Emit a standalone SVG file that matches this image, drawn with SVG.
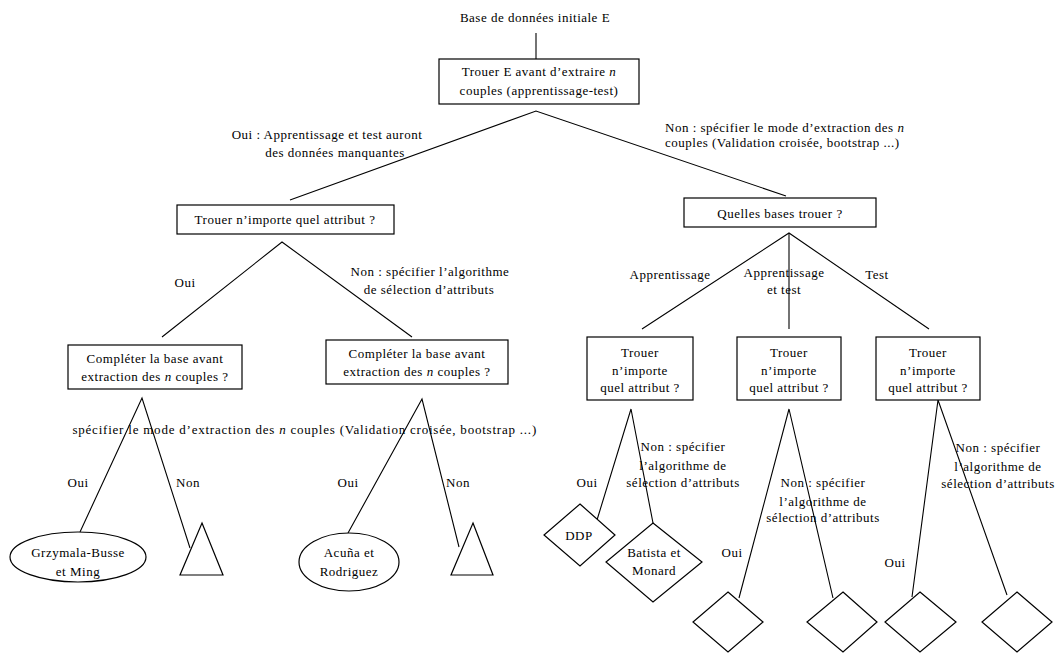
<svg xmlns="http://www.w3.org/2000/svg" width="1057" height="653" viewBox="0 0 1057 653">
  <style>
    text { font-family: "Liberation Serif", "Times New Roman", serif; font-size: 13px; letter-spacing: 0.5px; fill: #000; }
    .c { text-anchor: middle; }
    .e { text-anchor: end; }
    .wide { letter-spacing: 0.78px; }
    .box { fill: #fff; stroke: #000; stroke-width: 1.2; }
    .edge { fill: none; stroke: #000; stroke-width: 1.1; }
    .i { font-style: italic; }
  </style>
  <rect width="1057" height="653" fill="#fff"/>

  <!-- connectors -->
  <g id="connectors" class="edge">
    <line x1="536" y1="33" x2="536" y2="59"/>
    <polyline points="290,200 536,111 786,196"/>
    <polyline points="162,337 282,242 412,337"/>
    <polyline points="642,329 789,233 929,329"/>
    <line x1="789" y1="233" x2="789" y2="329"/>
    <polyline points="80,532 142,398 190,548"/>
    <polyline points="348,533 422,399 459,547"/>
    <polyline points="597,520 631,409 653,523"/>
    <polyline points="739,598 789,409 833,598"/>
    <polyline points="912,597 938,400 1007,595"/>
  </g>

  <!-- edge labels -->
  <g id="labels">
    <text x="327" y="139" class="c">Oui : Apprentissage et test auront</text>
    <text x="335" y="157" class="c">des données manquantes</text>
    <text x="665" y="132">Non : spécifier le mode d’extraction des <tspan class="i">n</tspan></text>
    <text x="665" y="147">couples (Validation croisée, bootstrap ...)</text>
    <text x="185" y="287" class="c">Oui</text>
    <text x="430" y="276" class="c">Non : spécifier l’algorithme</text>
    <text x="429" y="294" class="c">de sélection d’attributs</text>
    <text x="670" y="279" class="c">Apprentissage</text>
    <text x="784" y="277" class="c">Apprentissage</text>
    <text x="784" y="294" class="c">et test</text>
    <text x="877" y="279" class="c">Test</text>
    <text x="537" y="434" class="e wide">spécifier le mode d’extraction des <tspan class="i">n</tspan> couples (Validation croisée, bootstrap ...)</text>
    <text x="78" y="487" class="c">Oui</text>
    <text x="188" y="487" class="c">Non</text>
    <text x="348" y="487" class="c">Oui</text>
    <text x="458" y="487" class="c">Non</text>
    <text x="587" y="487" class="c">Oui</text>
    <text x="683" y="451" class="c">Non : spécifier</text>
    <text x="683" y="470" class="c">l’algorithme de</text>
    <text x="683" y="487" class="c">sélection d’attributs</text>
    <text x="732" y="557" class="c">Oui</text>
    <text x="823" y="487" class="c">Non : spécifier</text>
    <text x="823" y="506" class="c">l’algorithme de</text>
    <text x="823" y="522" class="c">sélection d’attributs</text>
    <text x="895" y="567" class="c">Oui</text>
    <text x="998" y="452" class="c">Non : spécifier</text>
    <text x="998" y="471" class="c">l’algorithme de</text>
    <text x="998" y="488" class="c">sélection d’attributs</text>
  </g>

  <!-- nodes -->
  <g id="root">
    <text x="535" y="22" class="c">Base de données initiale E</text>
  </g>
  <g id="trouer-e">
    <rect class="box" x="439" y="59" width="200" height="45"/>
    <text x="539" y="76" class="c">Trouer E avant d’extraire <tspan class="i">n</tspan></text>
    <text x="539" y="95" class="c">couples (apprentissage-test)</text>
  </g>
  <g id="trouer-attribut">
    <rect class="box" x="177" y="205" width="217" height="29"/>
    <text x="285" y="224" class="c">Trouer n’importe quel attribut ?</text>
  </g>
  <g id="quelles-bases">
    <rect class="box" x="684" y="198" width="192" height="29"/>
    <text x="780" y="218" class="c">Quelles bases trouer ?</text>
  </g>
  <g id="completer-1">
    <rect class="box" x="68" y="345" width="174" height="44"/>
    <text x="155" y="363" class="c">Compléter la base avant</text>
    <text x="155" y="381" class="c">extraction des <tspan class="i">n</tspan> couples ?</text>
  </g>
  <g id="completer-2">
    <rect class="box" x="326" y="340" width="182" height="44"/>
    <text x="417" y="358" class="c">Compléter la base avant</text>
    <text x="417" y="376" class="c">extraction des <tspan class="i">n</tspan> couples ?</text>
  </g>
  <g id="trouer-app">
    <rect class="box" x="587" y="337" width="106" height="63"/>
    <text x="640" y="357" class="c">Trouer</text>
    <text x="640" y="375" class="c">n’importe</text>
    <text x="640" y="392" class="c">quel attribut ?</text>
  </g>
  <g id="trouer-app-test">
    <rect class="box" x="737" y="337" width="104" height="63"/>
    <text x="789" y="357" class="c">Trouer</text>
    <text x="789" y="375" class="c">n’importe</text>
    <text x="789" y="392" class="c">quel attribut ?</text>
  </g>
  <g id="trouer-test">
    <rect class="box" x="876" y="337" width="104" height="63"/>
    <text x="928" y="357" class="c">Trouer</text>
    <text x="928" y="375" class="c">n’importe</text>
    <text x="928" y="392" class="c">quel attribut ?</text>
  </g>
  <g id="grzymala">
    <ellipse class="box" cx="78" cy="557" rx="68" ry="25"/>
    <text x="78" y="557" class="c">Grzymala-Busse</text>
    <text x="78" y="576" class="c">et Ming</text>
  </g>
  <g id="tri-1">
    <polygon class="box" points="202,523 223,575 180,575"/>
  </g>
  <g id="acuna">
    <ellipse class="box" cx="349" cy="562" rx="50" ry="29"/>
    <text x="349" y="557" class="c">Acuña et</text>
    <text x="349" y="576" class="c">Rodriguez</text>
  </g>
  <g id="tri-2">
    <polygon class="box" points="473,523 493,575 451,575"/>
  </g>
  <g id="ddp">
    <polygon class="box" points="580,504 615,535 580,566 544,535"/>
    <text x="579" y="540" class="c">DDP</text>
  </g>
  <g id="batista">
    <polygon class="box" points="653,523 702,562 653,602 606,562"/>
    <text x="654" y="557" class="c">Batista et</text>
    <text x="654" y="575" class="c">Monard</text>
  </g>
  <g id="leaf-1">
    <polygon class="box" points="728,592 763,622 728,652 693,622"/>
  </g>
  <g id="leaf-2">
    <polygon class="box" points="843,592 877,622 843,652 807,622"/>
  </g>
  <g id="leaf-3">
    <polygon class="box" points="920,592 956,622 920,652 885,622"/>
  </g>
  <g id="leaf-4">
    <polygon class="box" points="1017,592 1052,622 1017,652 982,622"/>
  </g>
</svg>
